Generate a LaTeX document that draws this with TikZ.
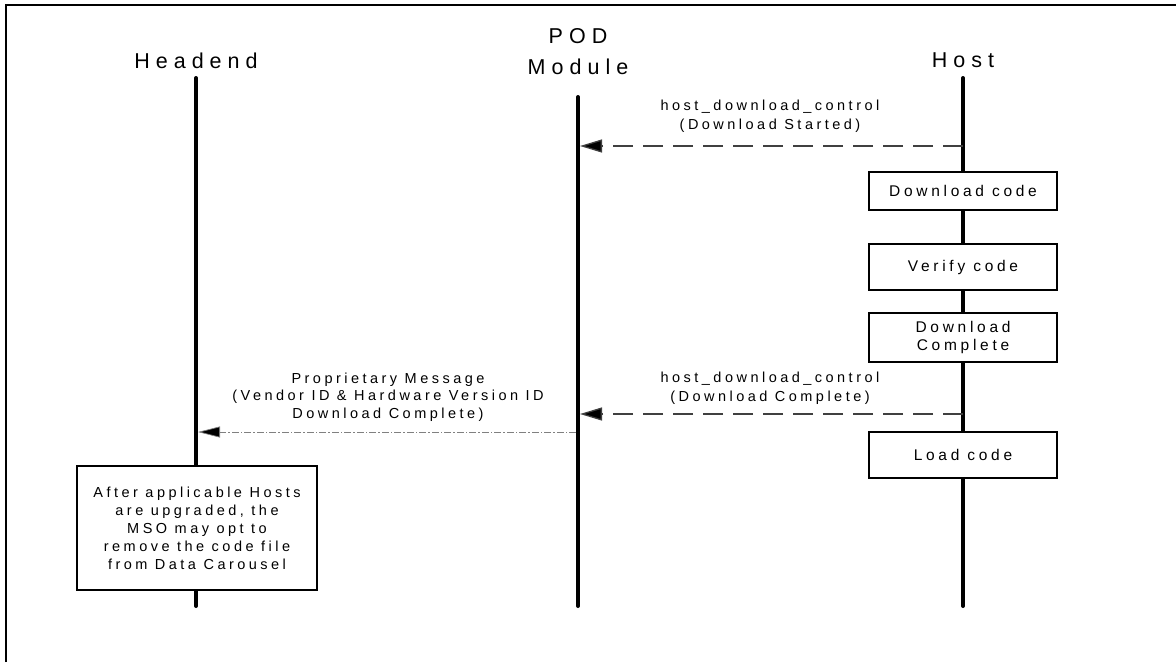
\documentclass[tikz,border=0pt]{standalone}
\usepackage{fontspec}
\setmainfont{Liberation Sans}
\newfontfamily\actorfont[LetterSpace=28]{Liberation Sans}
\newfontfamily\msgfont[LetterSpace=24]{Liberation Sans}
\usetikzlibrary{positioning,arrows.meta}

\tikzset{
  lifeline/.style={line width=4pt, line cap=round},
  actor/.style={font=\actorfont\fontsize{21.5}{31}\selectfont, align=center, inner sep=0pt},
  msg/.style={font=\msgfont\fontsize{14.5}{19}\selectfont, align=center, inner sep=0pt},
  stepbox/.style={draw, fill=white, line width=1.2pt, minimum width=188pt, inner sep=0pt,
    font=\msgfont\fontsize{15.5}{18}\selectfont, align=center},
  call/.style={draw=black!75, line width=1.3pt, dash pattern=on 20pt off 10pt,
    -{Triangle[length=22pt,width=13pt,fill=black]}},
  relay/.style={draw=gray, line width=0.7pt, dash pattern=on 7pt off 2pt on 1.5pt off 2pt,
    -{Triangle[length=22pt,width=11pt,fill=black]}}
}

\begin{document}
\begin{tikzpicture}[x=1pt,y=-1pt]
\useasboundingbox (0,0) rectangle (1176,662);
\draw[line width=2pt] (6,662) -- (6,5) -- (1176,5);

% actors
\node[actor] (headend) at (196,61) {Headend};
\node[actor] (pod) at (578,52) {POD\\Module};
\node[actor] (host) at (963,60) {Host};

% lifelines
\coordinate (hdTop) at (196,78);  \coordinate (hdEnd) at (196,606);
\coordinate (podTop) at (578,97); \coordinate (podEnd) at (578,606);
\coordinate (hostTop) at (963,78); \coordinate (hostEnd) at (963,606);
\draw[lifeline] (hdTop) -- (hdEnd);
\draw[lifeline] (podTop) -- (podEnd);
\draw[lifeline] (hostTop) -- (hostEnd);

% host steps
\node[stepbox, minimum height=38pt] (dlcode) at (963,191) {Download code};
\node[stepbox, minimum height=46pt] (verify) at (963,267) {Verify code};
\node[stepbox, minimum height=49pt] (dldone) at (963,337.5) {Download\\Complete};
\node[stepbox, minimum height=46pt] (load) at (963,455) {Load code};

% messages
\coordinate (hostA) at (963,146); \coordinate (podA) at (580,146);
\draw[call] (hostA) -- (podA);
\node[msg] (msgStart) at (770,116) {host\_download\_control\\(Download Started)};

\coordinate (hostB) at (963,414); \coordinate (podB) at (580,414);
\draw[call] (hostB) -- (podB);
\node[msg] (msgDone) at (770,388) {host\_download\_control\\(Download Complete)};

\coordinate (podC) at (576,432); \coordinate (hdC) at (198,432);
\draw[relay] (podC) -- (hdC);
\node[msg, font=\msgfont\fontsize{14.5}{17.5}\selectfont] (msgProp) at (388,397)
  {Proprietary Message\\(Vendor ID \& Hardware Version ID\\Download Complete)};

% headend note
\node[stepbox, minimum width=240pt, minimum height=124pt,
  font=\msgfont\fontsize{14.5}{18}\selectfont] (note) at (197,528)
  {After applicable Hosts\\are upgraded, the\\MSO may opt to\\remove the code file\\from Data Carousel};
\end{tikzpicture}
\end{document}
